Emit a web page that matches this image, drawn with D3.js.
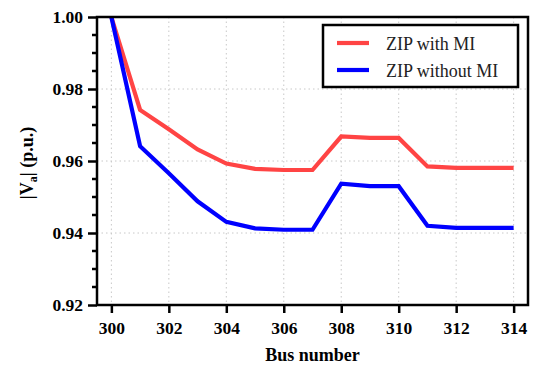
<!DOCTYPE html>
<html><head><meta charset="utf-8">
<script src="https://cdn.jsdelivr.net/npm/d3@7"></script>
<style>body{margin:0;background:#fff}svg{display:block}svg text{font-family:"Liberation Serif",serif !important}</style>
</head><body><svg id="c" width="534" height="367"></svg>
<script>
const buses = [300,301,302,303,304,305,306,307,308,309,310,311,312,313,314];
const withMI = [1.000,0.9742,0.9688,0.9632,0.9593,0.9578,0.9575,0.9575,0.9668,0.9664,0.9664,0.9585,0.9581,0.9581,0.9581];
const withoutMI = [1.000,0.9641,0.9566,0.9488,0.9431,0.9413,0.9409,0.9409,0.9537,0.9530,0.9530,0.9420,0.9414,0.9414,0.9414];
const xTicks = [300,302,304,306,308,310,312,314];
const yTicks = [0.92,0.94,0.96,0.98,1.00];
const yMinor = [0.925,0.93,0.935,0.945,0.95,0.955,0.965,0.97,0.975,0.985,0.99,0.995];
const seriesNames = ["ZIP with MI","ZIP without MI"];
const colors = ["#ff4444","#0000ff"];

const svg = d3.select("#c");
const L=97,R=528,T=17,B=305;
const x = d3.scaleLinear().domain([299.5,314.5]).range([L,R]);
const y = d3.scaleLinear().domain([0.92,1.00]).range([B,T]);

// grid
const g = svg.append("g");
g.selectAll("line.vx").data(xTicks).join("line")
  .attr("x1",d=>x(d)).attr("x2",d=>x(d)).attr("y1",T).attr("y2",B)
  .attr("stroke","#c8c8c8").attr("stroke-width",1).attr("stroke-dasharray","1.5,3");
g.selectAll("line.hy").data(yTicks).join("line")
  .attr("y1",d=>y(d)).attr("y2",d=>y(d)).attr("x1",L).attr("x2",R)
  .attr("stroke","#c8c8c8").attr("stroke-width",1).attr("stroke-dasharray","1.5,3");

// lines
const line = d3.line().x((d,i)=>x(buses[i])).y(d=>y(d));
[withMI,withoutMI].forEach((s,k)=>{
  svg.append("path").datum(s).attr("d",line).attr("fill","none")
    .attr("stroke",colors[k]).attr("stroke-width",4.2).attr("stroke-linejoin","miter");
});

// frame
svg.append("rect").attr("x",L).attr("y",T).attr("width",R-L).attr("height",B-T)
  .attr("fill","none").attr("stroke","#000").attr("stroke-width",2.5);

// axes
const xa = svg.append("g").attr("transform",`translate(0,${B})`)
  .call(d3.axisBottom(x).tickValues(xTicks).tickSize(8).tickPadding(9).tickFormat(d3.format("d")));
xa.select(".domain").remove();
xa.attr("font-family",null).attr("font-size",null);
xa.selectAll("line").attr("stroke-width",2.5);
xa.selectAll("text").style("font-weight","bold").style("font-size","17.5px").attr("fill","#000");

const ya = svg.append("g").attr("transform",`translate(${L},0)`)
  .call(d3.axisLeft(y).tickValues(yTicks).tickSize(9).tickPadding(5).tickFormat(d3.format(".2f")));
ya.select(".domain").remove();
ya.attr("font-family",null).attr("font-size",null);
ya.selectAll("line").attr("stroke-width",2.5);
ya.selectAll("text").style("font-weight","bold").style("font-size","17.5px").attr("fill","#000");
svg.append("g").selectAll("line").data(yMinor).join("line")
  .attr("x1",L-5).attr("x2",L).attr("y1",d=>y(d)).attr("y2",d=>y(d))
  .attr("stroke","#000").attr("stroke-width",2.5);

// axis titles
svg.append("text").attr("x",(L+R)/2).attr("y",361).attr("text-anchor","middle")
  .style("font-weight","bold").style("font-size","18px").text("Bus number");
const yt = svg.append("text").attr("transform",`translate(33,163) rotate(-90)`)
  .attr("text-anchor","middle").style("font-weight","bold").style("font-size","18px");
yt.append("tspan").text("|V");
yt.append("tspan").style("font-size","12px").attr("dy",4).text("a");
yt.append("tspan").attr("dy",-4).text("| (p.u.)");

// legend
const lg = svg.append("g");
lg.append("rect").attr("x",323).attr("y",25).attr("width",195).attr("height",62)
  .attr("fill","#fff").attr("stroke","#000").attr("stroke-width",2.5);
seriesNames.forEach((n,k)=>{
  const yy = 43 + k*27;
  lg.append("line").attr("x1",337).attr("x2",369).attr("y1",yy).attr("y2",yy)
    .attr("stroke",colors[k]).attr("stroke-width",4.2);
  lg.append("text").attr("x",386).attr("y",yy+6.5)
    .style("font-size","18px").attr("fill","#222").text(n);
});
</script></body></html>
